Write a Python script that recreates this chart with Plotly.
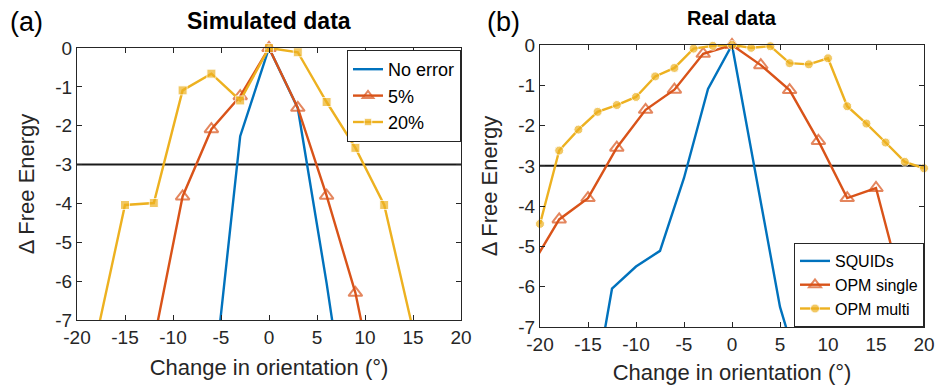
import numpy as np
import plotly.graph_objects as go

# ---- Simulated data (panel a) ----
sim_noerr_angle = [-9, -6, -3, 0, 3, 6, 9]
sim_noerr = [-16.0, -9.2, -2.27, 0, -1.55, -6.05, -11.0]

sim_5_angle = [-12, -9, -6, -3, 0, 3, 6, 9, 12]
sim_5 = [-7.55, -3.82, -2.09, -1.24, 0, -1.54, -3.80, -6.30, -9.9]

sim_20_angle = [-18, -15, -12, -9, -6, -3, 0, 3, 6, 9, 12, 15]
sim_20 = [-7.46, -4.04, -3.99, -1.09, -0.66, -1.35, 0, -0.11, -1.39, -2.57, -4.04, -7.25]

# ---- Real data (panel b) ----
squid_angle = [-15, -12.5, -10, -7.5, -5, -2.5, 0, 2.5, 5, 7.5]
squid = [-9.45, -6.05, -5.50, -5.11, -3.30, -1.09, 0, -3.20, -6.50, -8.5]

opm_single_angle = [-21, -18, -15, -12, -9, -6, -3, 0, 3, 6, 9, 12, 15, 18, 21]
opm_single = [-5.53, -4.33, -3.80, -2.55, -1.61, -1.11, -0.22, 0, -0.50, -1.12,
              -2.38, -3.80, -3.55, -6.40, -9.0]

opm_multi_angle = [-20, -18, -16, -14, -12, -10, -8, -6, -4, -2, 0,
                   2, 4, 6, 8, 10, 12, 14, 16, 18, 20]
opm_multi = [-4.44, -2.62, -2.10, -1.66, -1.49, -1.29, -0.78, -0.57, -0.09, -0.02, 0,
             -0.07, -0.03, -0.45, -0.48, -0.33, -1.52, -1.95, -2.42, -2.90, -3.06]

threshold = -3
x_range = [-20, 20]
y_range = [-7, 0]
x_ticks = [-20, -15, -10, -5, 0, 5, 10, 15, 20]
x_ticktext = ["-20", "-15", "-10", "-5", "0", "5", "10", "15", "20"]
y_ticks = [0, -1, -2, -3, -4, -5, -6, -7]
y_ticktext = ["0", "-1", "-2", "-3", "-4", "-5", "-6", "-7"]

BLUE, ORANGE, YELLOW = "#0072BD", "#D95319", "#EDB120"
AXC = "#262626"
FONT = "Liberation Sans, Arial, sans-serif"
LW = 2.4


def marker_sizes(xs, ys, size):
    """Hide markers that fall outside the visible axis box."""
    out = []
    for x, y in zip(xs, ys):
        inside = x_range[0] <= x <= x_range[1] and y_range[0] - 1e-9 <= y <= y_range[1] + 1e-9
        out.append(size if inside else 0)
    return out


fig = go.Figure()

# panel (a)
fig.add_trace(go.Scatter(x=sim_noerr_angle, y=sim_noerr, mode="lines", name="No error",
                         line=dict(color=BLUE, width=LW), xaxis="x", yaxis="y", legend="legend"))
fig.add_trace(go.Scatter(x=sim_5_angle, y=sim_5, mode="lines+markers", name="5%",
                         line=dict(color=ORANGE, width=LW),
                         marker=dict(symbol="triangle-up-open", size=marker_sizes(sim_5_angle, sim_5, 12),
                                     color=ORANGE, line=dict(width=2, color=ORANGE)),
                         cliponaxis=False, xaxis="x", yaxis="y", legend="legend"))
fig.add_trace(go.Scatter(x=sim_20_angle, y=sim_20, mode="lines+markers", name="20%",
                         line=dict(color=YELLOW, width=LW),
                         marker=dict(symbol="square", size=marker_sizes(sim_20_angle, sim_20, 9),
                                     color=YELLOW),
                         cliponaxis=False, xaxis="x", yaxis="y", legend="legend"))

# panel (b)
fig.add_trace(go.Scatter(x=squid_angle, y=squid, mode="lines", name="SQUIDs",
                         line=dict(color=BLUE, width=LW), xaxis="x2", yaxis="y2", legend="legend2"))
fig.add_trace(go.Scatter(x=opm_single_angle, y=opm_single, mode="lines+markers", name="OPM single",
                         line=dict(color=ORANGE, width=LW),
                         marker=dict(symbol="triangle-up-open",
                                     size=marker_sizes(opm_single_angle, opm_single, 12),
                                     color=ORANGE, line=dict(width=2, color=ORANGE)),
                         cliponaxis=False, xaxis="x2", yaxis="y2", legend="legend2"))
fig.add_trace(go.Scatter(x=opm_multi_angle, y=opm_multi, mode="lines+markers", name="OPM multi",
                         line=dict(color=YELLOW, width=LW),
                         marker=dict(symbol="circle", size=marker_sizes(opm_multi_angle, opm_multi, 9),
                                     color=YELLOW),
                         cliponaxis=False, xaxis="x2", yaxis="y2", legend="legend2"))

# threshold lines
for xr, yr in (("x", "y"), ("x2", "y2")):
    fig.add_shape(type="line", xref=xr, yref=yr, x0=x_range[0], x1=x_range[1],
                  y0=threshold, y1=threshold, line=dict(color="#1a1a1a", width=2), layer="below")

axis_common = dict(showline=True, mirror="ticks", linecolor=AXC, linewidth=1,
                   ticks="inside", ticklen=5, tickcolor=AXC, tickwidth=1,
                   showgrid=False, zeroline=False, automargin=False,
                   tickfont=dict(family=FONT, size=19, color=AXC))

xaxis = dict(axis_common, range=x_range, tickvals=x_ticks, ticktext=x_ticktext,
             title=dict(text="Change in orientation (°)", font=dict(family=FONT, size=22, color=AXC),
                        standoff=12))
yaxis = dict(axis_common, range=y_range, tickvals=y_ticks, ticktext=y_ticktext,
             title=dict(text="Δ Free Energy", font=dict(family=FONT, size=22, color=AXC),
                        standoff=14))

legend_common = dict(bgcolor="white", bordercolor=AXC, borderwidth=1,
                     tracegroupgap=0, itemwidth=30)

fig.update_layout(
    width=936, height=385,
    margin=dict(l=0, r=0, t=0, b=0, autoexpand=False),
    paper_bgcolor="white", plot_bgcolor="white",
    showlegend=True,
    xaxis=dict(xaxis, domain=[77 / 936, 461 / 936], anchor="y"),
    yaxis=dict(yaxis, domain=[1 - 320 / 385, 1 - 48 / 385], anchor="x"),
    xaxis2=dict(xaxis, domain=[540 / 936, 924 / 936], anchor="y2"),
    yaxis2=dict(yaxis, domain=[1 - 327 / 385, 1 - 45 / 385], anchor="x2"),
    legend=dict(legend_common, x=461 / 936, xanchor="right", y=1 - 50 / 385, yanchor="top",
                font=dict(family=FONT, size=18, color="black")),
    legend2=dict(legend_common, x=924 / 936, xanchor="right", y=1 - 327 / 385, yanchor="bottom",
                 font=dict(family=FONT, size=16, color="black")),
    annotations=[
        dict(text="(a)", x=26 / 936, y=1 - 22 / 385, xref="paper", yref="paper",
             xanchor="center", yanchor="middle",
             showarrow=False, font=dict(family=FONT, size=27, color="black")),
        dict(text="(b)", x=503 / 936, y=1 - 22 / 385, xref="paper", yref="paper",
             xanchor="center", yanchor="middle",
             showarrow=False, font=dict(family=FONT, size=27, color="black")),
        dict(text="<b>Simulated data</b>", x=269 / 936, y=1 - 21 / 385, xref="paper", yref="paper",
             xanchor="center", yanchor="middle",
             showarrow=False, font=dict(family=FONT, size=23, color="black")),
        dict(text="<b>Real data</b>", x=732 / 936, y=1 - 18 / 385, xref="paper", yref="paper",
             xanchor="center", yanchor="middle",
             showarrow=False, font=dict(family=FONT, size=20, color="black")),
    ],
)

fig.write_html("out.html")
